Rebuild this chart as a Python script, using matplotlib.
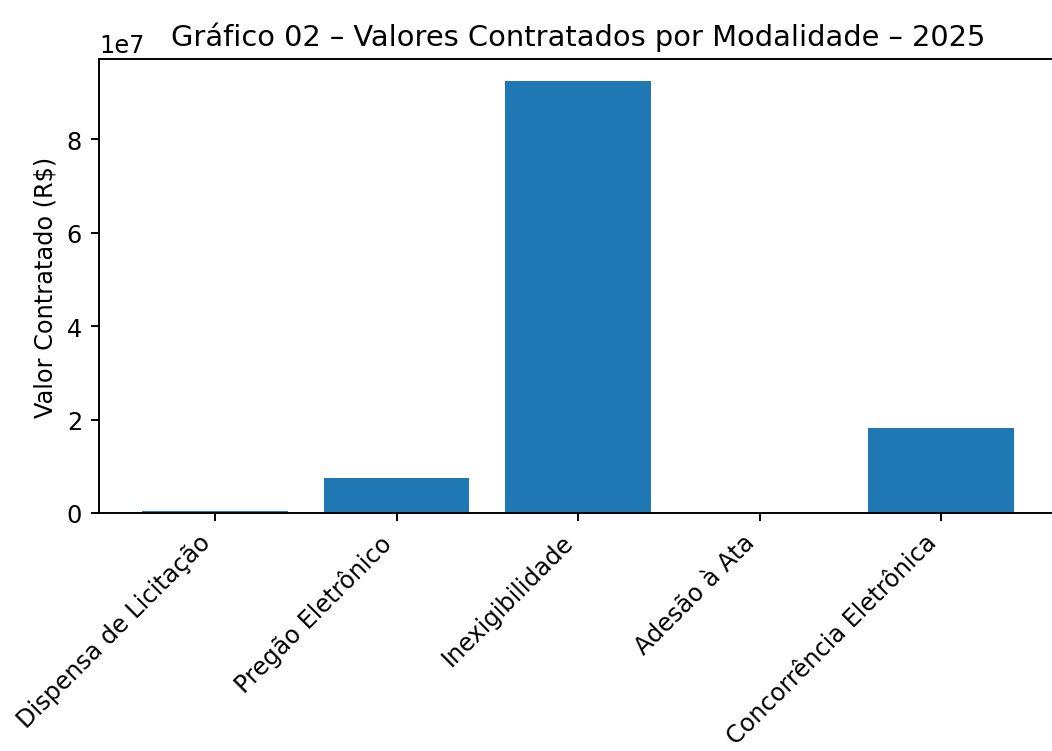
import matplotlib
matplotlib.use("Agg")
import matplotlib.pyplot as plt

modalidades = [
    "Dispensa de Licitação",
    "Pregão Eletrônico",
    "Inexigibilidade",
    "Adesão à Ata",
    "Concorrência Eletrônica",
]
valores = [3.5e5, 7.5e6, 9.25e7, 2.0e4, 1.82e7]

DPI = 173
fig = plt.figure(figsize=(1052 / DPI, 752 / DPI), dpi=DPI)
ax = fig.add_axes([0.094, 0.3165, 0.911, 0.6037])
ax.bar(modalidades, valores, color="#1f77b4")
ax.set_title("Gráfico 02 – Valores Contratados por Modalidade – 2025")
ax.set_ylabel("Valor Contratado (R$)")
plt.setp(ax.get_xticklabels(), rotation=45, ha="right")

fig.savefig("out.png", dpi=DPI, facecolor="white")
